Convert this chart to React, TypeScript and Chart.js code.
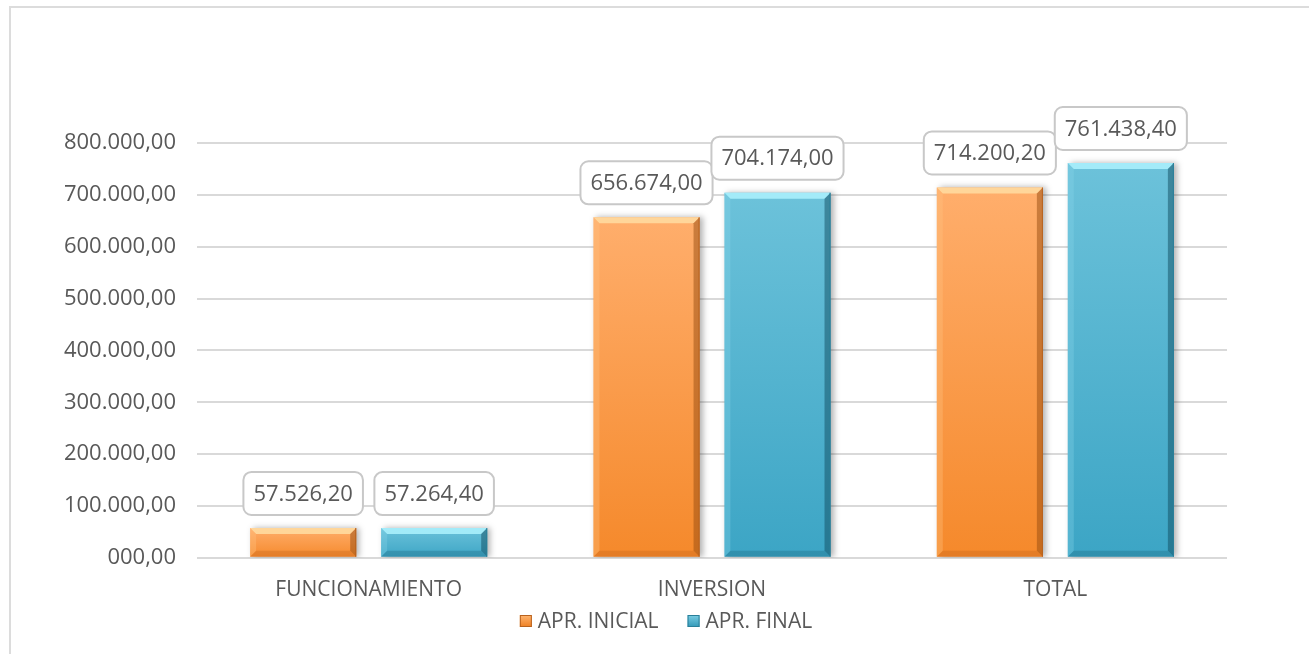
import React, { useEffect, useRef } from "react";
import { Chart, registerables } from "chart.js";

Chart.register(...registerables);

const categories = ["FUNCIONAMIENTO", "INVERSION", "TOTAL"];
const seriesNames = ["APR. INICIAL", "APR. FINAL"];
const aprInicial = [57526.2, 656674.0, 714200.2];
const aprFinal = [57264.4, 704174.0, 761438.4];
const yTickLabels = [
  "000,00",
  "100.000,00",
  "200.000,00",
  "300.000,00",
  "400.000,00",
  "500.000,00",
  "600.000,00",
  "700.000,00",
  "800.000,00",
];

const FONT = "'Open Sans', 'Liberation Sans', sans-serif";
const TEXT = "#595959";

const palette = [
  {
    top: "#FFAE6C",
    bottom: "#F5892B",
    legendTop: "#FFB570",
    legendBottom: "#EE7F22",
    edge: "#B8621E",
    hi: "rgba(255,218,160,0.9)",
    lo: "rgba(255,196,130,0.35)",
    dark: "rgba(150,75,15,0.5)",
    bot: "rgba(190,95,25,0.3)",
  },
  {
    top: "#6CC2DA",
    bottom: "#3CA5C5",
    legendTop: "#7ACDE3",
    legendBottom: "#3399B8",
    edge: "#2A7F99",
    hi: "rgba(170,240,252,0.9)",
    lo: "rgba(140,215,235,0.3)",
    dark: "rgba(15,75,95,0.5)",
    bot: "rgba(25,95,120,0.3)",
  },
];

function fmt(v: number): string {
  const [i, d] = v.toFixed(2).split(".");
  const ip = i.replace(/\B(?=(\d{3})+(?!\d))/g, ".");
  return ip + "," + d;
}

function gradientFor(idx: number) {
  return (c: any) => {
    const p = palette[idx];
    if (c.type !== "data" || !c.chart.scales || !c.chart.scales.y) return p.bottom;
    const y = c.chart.scales.y;
    const top = y.getPixelForValue(c.raw as number);
    const bot = y.getPixelForValue(0);
    if (!isFinite(top) || !isFinite(bot) || top === bot) return p.bottom;
    const g = c.chart.ctx.createLinearGradient(0, top, 0, bot);
    g.addColorStop(0, p.top);
    g.addColorStop(1, p.bottom);
    return g;
  };
}

const barDecor = {
  id: "barDecor",
  beforeDatasetsDraw(chart: any) {
    const ctx = chart.ctx;
    ctx.save();
    ctx.shadowColor = "rgba(0,0,0,0.3)";
    ctx.shadowBlur = 6;
    ctx.shadowOffsetX = 3;
    ctx.shadowOffsetY = 0;
  },
  afterDatasetsDraw(chart: any) {
    const ctx = chart.ctx;
    ctx.restore();
    chart.data.datasets.forEach((ds: any, di: number) => {
      const meta = chart.getDatasetMeta(di);
      const p = palette[di];
      meta.data.forEach((el: any) => {
        const { x, y, base, width } = el.getProps(["x", "y", "base", "width"], true);
        const L = x - width / 2;
        const R = x + width / 2;
        const T = y;
        const B = base;
        const b = Math.min(6, (B - T) / 4);
        const poly = (pts: number[][], color: string) => {
          ctx.beginPath();
          ctx.moveTo(pts[0][0], pts[0][1]);
          for (let k = 1; k < pts.length; k++) ctx.lineTo(pts[k][0], pts[k][1]);
          ctx.closePath();
          ctx.fillStyle = color;
          ctx.fill();
        };
        ctx.save();
        poly([[L, T], [R, T], [R - b, T + b], [L + b, T + b]], p.hi);
        poly([[L, T], [L + b, T + b], [L + b, B - b], [L, B]], p.lo);
        poly([[R, T], [R, B], [R - b, B - b], [R - b, T + b]], p.dark);
        poly([[L, B], [L + b, B - b], [R - b, B - b], [R, B]], p.bot);
        ctx.strokeStyle = p.edge;
        ctx.lineWidth = 1;
        ctx.beginPath();
        ctx.moveTo(R - 0.5, T);
        ctx.lineTo(R - 0.5, B);
        ctx.stroke();
        ctx.restore();
      });
    });

    // data labels
    ctx.save();
    ctx.font = `22px ${FONT}`;
    ctx.textAlign = "center";
    ctx.textBaseline = "middle";
    chart.data.datasets.forEach((ds: any, di: number) => {
      const meta = chart.getDatasetMeta(di);
      meta.data.forEach((el: any, i: number) => {
        const { x, y } = el.getProps(["x", "y"], true);
        const text = fmt(ds.data[i]);
        const tw = ctx.measureText(text).width;
        const w = tw + 20;
        const h = 43;
        const bottom = y - 13;
        const top = bottom - h;
        const left = x - w / 2;
        ctx.beginPath();
        ctx.roundRect(left, top, w, h, 8);
        ctx.fillStyle = "#ffffff";
        ctx.fill();
        ctx.lineWidth = 2;
        ctx.strokeStyle = "#c8c8c8";
        ctx.stroke();
        ctx.fillStyle = TEXT;
        ctx.fillText(text, x, top + h / 2 + 1);
      });
    });
    ctx.restore();
  },
  afterDraw(chart: any) {
    // legend
    const ctx = chart.ctx;
    ctx.save();
    ctx.font = `21px ${FONT}`;
    ctx.textBaseline = "middle";
    ctx.textAlign = "left";
    const box = 12;
    const gapText = 6;
    const gapItem = 29;
    const widths = seriesNames.map((n) => ctx.measureText(n).width);
    const total =
      widths.reduce((a, w) => a + box + gapText + w, 0) + gapItem * (seriesNames.length - 1);
    const cx = 666;
    const cy = 621;
    let x = cx - total / 2;
    seriesNames.forEach((n, i) => {
      const p = palette[i];
      const g = ctx.createLinearGradient(0, cy - box / 2, 0, cy + box / 2);
      g.addColorStop(0, p.legendTop);
      g.addColorStop(1, p.legendBottom);
      ctx.fillStyle = g;
      ctx.fillRect(x, cy - box / 2, box, box);
      ctx.strokeStyle = p.edge;
      ctx.lineWidth = 1;
      ctx.strokeRect(x + 0.5, cy - box / 2 + 0.5, box - 1, box - 1);
      ctx.fillStyle = TEXT;
      ctx.fillText(n, x + box + gapText, cy + 1);
      x += box + gapText + widths[i] + gapItem;
    });
    ctx.restore();
  },
};

export default function App() {
  const ref = useRef<HTMLCanvasElement | null>(null);

  useEffect(() => {
    if (!ref.current) return;
    const chart = new Chart(ref.current, {
      type: "bar",
      data: {
        labels: categories,
        datasets: [
          {
            label: seriesNames[0],
            data: aprInicial,
            backgroundColor: gradientFor(0) as any,
            borderWidth: 0,
            categoryPercentage: 0.763,
            barPercentage: 0.81,
          },
          {
            label: seriesNames[1],
            data: aprFinal,
            backgroundColor: gradientFor(1) as any,
            borderWidth: 0,
            categoryPercentage: 0.763,
            barPercentage: 0.81,
          },
        ],
      },
      options: {
        animation: false,
        responsive: false,
        devicePixelRatio: 1,
        layout: { padding: { top: 143, right: 82, bottom: 39, left: 0 } },
        plugins: {
          tooltip: { enabled: false },
          legend: { display: false },
        },
        scales: {
          x: {
            grid: { display: false },
            border: { display: false },
            ticks: {
              color: TEXT,
              font: { family: FONT, size: 21 },
              padding: 12,
            },
          },
          y: {
            min: 0,
            max: 800000,
            border: { display: false },
            grid: { color: "#d9d9d9", lineWidth: 2, drawTicks: false },
            ticks: {
              stepSize: 100000,
              color: TEXT,
              font: { family: FONT, size: 22 },
              padding: 21,
              callback: (v: any) => yTickLabels[Math.round(Number(v) / 100000)],
            },
            afterFit: (s: any) => {
              s.width = 197;
            },
          },
        },
      },
      plugins: [barDecor],
    });
    return () => chart.destroy();
  }, []);

  return (
    <div>
      <div
        style={{
          position: "fixed",
          left: 9,
          top: 6,
          width: 1340,
          height: 700,
          border: "2px solid #dcdcdc",
          boxSizing: "border-box",
        }}
      />
      <canvas
        ref={ref}
        width={1309}
        height={654}
        style={{ position: "fixed", left: 0, top: 0, width: 1309, height: 654 }}
      />
    </div>
  );
}
